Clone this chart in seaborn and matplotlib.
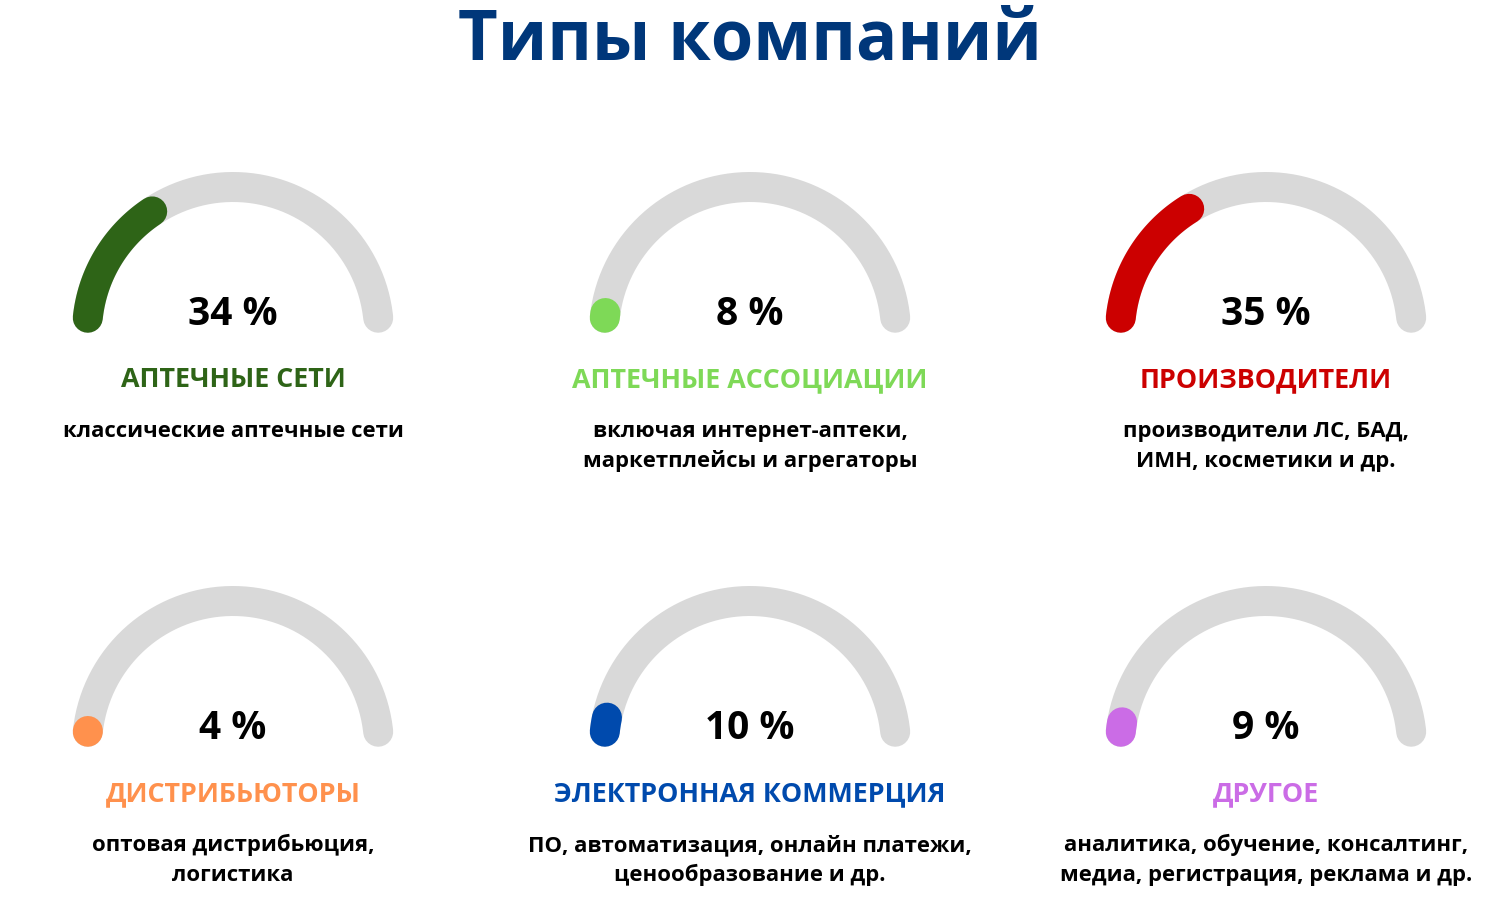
import numpy as np
import pandas as pd
import matplotlib
matplotlib.use("Agg")
import matplotlib.pyplot as plt
import seaborn as sns

# ---- data ----
categories = ["АПТЕЧНЫЕ СЕТИ", "АПТЕЧНЫЕ АССОЦИАЦИИ", "ПРОИЗВОДИТЕЛИ",
              "ДИСТРИБЬЮТОРЫ", "ЭЛЕКТРОННАЯ КОММЕРЦИЯ", "ДРУГОЕ"]
values = [34, 8, 35, 4, 10, 9]
descriptions = [
    ["классические аптечные сети"],
    ["включая интернет-аптеки,", "маркетплейсы и агрегаторы"],
    ["производители ЛС, БАД,", "ИМН, косметики и др."],
    ["оптовая дистрибьюция,", "логистика"],
    ["ПО, автоматизация, онлайн платежи,", "ценообразование и др."],
    ["аналитика, обучение, консалтинг,", "медиа, регистрация, реклама и др."],
]
colors = ["#2E6417", "#7ED957", "#CC0000", "#FF914D", "#004AAD", "#CB6CE6"]
title = "Типы компаний"
gauge_min, gauge_max = 7, 97

sns.set_theme(style="white")
plt.rcParams["font.family"] = ["Open Sans", "DejaVu Sans"]

fig = plt.figure(figsize=(15, 9), dpi=100)
ax = fig.add_axes([0, 0, 1, 1])
ax.set_xlim(0, 1500)
ax.set_ylim(900, 0)
ax.axis("off")

col_x = [233, 750, 1266]
row_y = [333, 747]
radius = 146
a_start, a_end = 174.0, 6.0
lw = 30 * 72 / 100  # 30 px

for i, (cat, val, desc, col) in enumerate(zip(categories, values, descriptions, colors)):
    cx = col_x[i % 3]
    cy = row_y[i // 3]
    # background arc
    th = np.radians(np.linspace(a_start, a_end, 200))
    bg = pd.DataFrame({"x": cx + radius * np.cos(th), "y": cy - radius * np.sin(th)})
    sns.lineplot(data=bg, x="x", y="y", sort=False, estimator=None, ax=ax,
                 color="#D9D9D9", linewidth=lw, solid_capstyle="round")
    # value arc
    frac = np.clip((val - gauge_min) / (gauge_max - gauge_min), 0, 1)
    span = max(frac * (a_start - a_end), 0.3)
    th2 = np.radians(np.linspace(a_start, a_start - span, 100))
    fg = pd.DataFrame({"x": cx + radius * np.cos(th2), "y": cy - radius * np.sin(th2)})
    sns.lineplot(data=fg, x="x", y="y", sort=False, estimator=None, ax=ax,
                 color=col, linewidth=lw, solid_capstyle="round")
    # texts
    ax.text(cx, cy - 8, f"{val} %", ha="center", va="baseline",
            fontsize=28, fontweight="bold", color="black")
    ax.text(cx, cy + 54, cat, ha="center", va="baseline",
            fontsize=19.4, fontweight="bold", color=col)
    for j, line in enumerate(desc):
        ax.text(cx, cy + 104 + 30 * j, line, ha="center", va="baseline",
                fontsize=15.9, fontweight="bold", color="black")

ax.text(750, 60, title, ha="center", va="baseline", fontsize=49.4,
        fontweight="bold", color="#00377A")

fig.savefig("out.png", dpi=100)
